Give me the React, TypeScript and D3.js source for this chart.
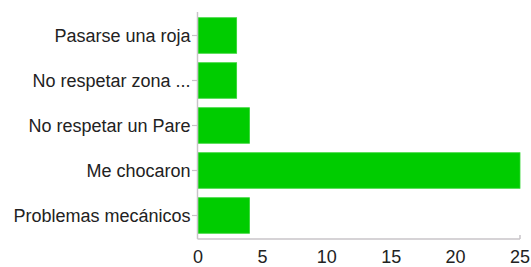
import React from "react";
import * as d3 from "d3";

const categories = ["Pasarse una roja", "No respetar zona ...", "No respetar un Pare", "Me chocaron", "Problemas mecánicos"];
const values = [3, 3, 4, 25, 4];
const xTicks = [0, 5, 10, 15, 20, 25];

export default function App() {
  const W = 531, H = 267;
  const x = d3.scaleLinear().domain([0, 25]).range([198, 520]);
  const y = d3.scaleBand().domain(categories).range([13, 238]).paddingInner(0.21).paddingOuter(0.105);
  const axisColor = "#c8c4c8";
  const textColor = "#222";
  const font = "'Liberation Sans', Arial, sans-serif";
  const axisY = 239;
  return (
    <svg width={W} height={H} style={{ position: "absolute", left: 0, top: 0, background: "#fff" }} fontFamily={font}>
      {categories.map((c, i) => (
        <rect key={c} x={x(0)} y={y(c)} width={x(values[i]) - x(0)} height={y.bandwidth()} fill="#00cc00" stroke="#33d633" strokeWidth={0.8} />
      ))}
      <line x1={x(0) - 0.5} x2={x(0) - 0.5} y1={12} y2={axisY} stroke={axisColor} strokeWidth={1.5} />
      <line x1={x(0) - 0.5} x2={x(25)} y1={axisY} y2={axisY} stroke={axisColor} strokeWidth={1.5} />
      <line x1={x(25)} x2={x(25)} y1={axisY} y2={axisY - 4} stroke={axisColor} strokeWidth={1.5} />
      {categories.map((c) => {
        const cy = (y(c) as number) + y.bandwidth() / 2;
        return (
          <g key={c}>
            <line x1={x(0) - 6} x2={x(0)} y1={cy} y2={cy} stroke={axisColor} strokeWidth={1.2} />
            <text x={x(0) - 7.5} y={cy} dy="0.35em" textAnchor="end" fontSize={18} fill={textColor}>{c}</text>
          </g>
        );
      })}
      {xTicks.map((t) => (
        <text key={t} x={x(t)} y={263} textAnchor="middle" fontSize={18} fill={textColor}>{t}</text>
      ))}
    </svg>
  );
}
